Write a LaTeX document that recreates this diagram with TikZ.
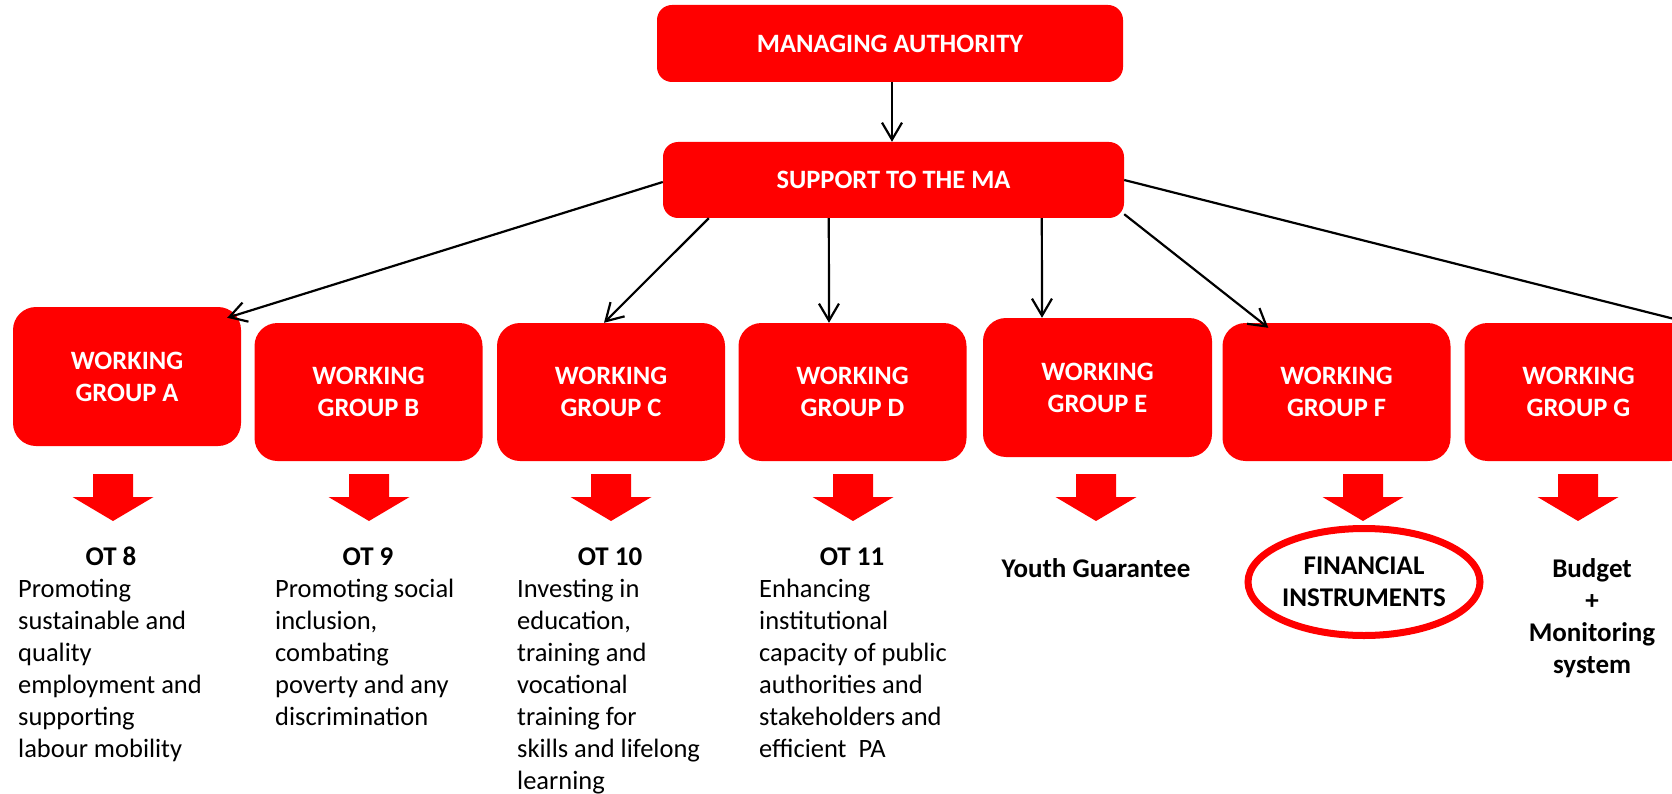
\documentclass[tikz,border=0pt]{standalone}
\usepackage{fontspec}
\setmainfont{Carlito}
\usetikzlibrary{arrows.meta,shapes.geometric}
\definecolor{wgred}{RGB}{255,0,0}

\begin{document}
\begin{tikzpicture}[x=1pt,y=-1pt,
  box/.style={fill=wgred, rounded corners=15pt, text=white,
    font=\fontsize{26.5}{32}\selectfont\bfseries, align=center, inner sep=0pt},
  wg/.style={box, rounded corners=23pt, minimum width=228pt, minimum height=138pt},
  link/.style={draw=black, line width=2.2pt,
    -{Straight Barb[length=17pt,width=20pt]}},
  title/.style={font=\fontsize{27}{32}\selectfont\bfseries, inner sep=0pt, anchor=base},
  body/.style={font=\fontsize{26.5}{32}\selectfont, align=left, inner sep=0pt, anchor=base west},
  pics/downarrow/.style={code={
    \fill[wgred] (-20,0) -- (20,0) -- (20,23) -- (40.5,23) -- (0,47)
      -- (-40.5,23) -- (-20,23) -- cycle;}}
]
\useasboundingbox (0,0) rectangle (1672,794);
\clip (0,0) rectangle (1672,794);

% top of the hierarchy
\node[box, minimum width=466pt, minimum height=77pt] (ma) at (890,43.5) {MANAGING AUTHORITY};
\node[box, minimum width=461pt, minimum height=76pt] (sup) at (893.5,180) {SUPPORT TO THE MA};

% working groups
\node[wg, minimum height=139pt] (A) at (127,376.5) {WORKING\\GROUP A};
\node[wg] (B) at (368.5,392) {WORKING\\GROUP B};
\node[wg] (C) at (611,392) {WORKING\\GROUP C};
\node[wg] (D) at (852.5,392) {WORKING\\GROUP D};
\node[wg, minimum width=229pt, minimum height=139pt] (E) at (1097.5,387.5) {WORKING\\GROUP E};
\node[wg] (F) at (1336.5,392) {WORKING\\GROUP F};
\node[wg] (G) at (1578.5,392) {WORKING\\GROUP G};
\coordinate (gto) at (1710,328);

% connectors
\draw[link] ([xshift=2pt]ma.south) -- ([xshift=-1.5pt]sup.north);
\draw[link] ([yshift=-2pt]sup.west) -- ([xshift=-14pt,yshift=-11pt]A.north east);
\draw[link] ([xshift=46pt]sup.south west) -- ([xshift=-7pt]C.north);
\draw[link] ([xshift=166pt]sup.south west) -- ([xshift=-23.5pt]D.north);
\draw[link] ([xshift=379pt]sup.south west) -- ([xshift=-55.5pt]E.north);
\draw[link] ([yshift=4pt]sup.south east) -- ([xshift=46pt,yshift=-5pt]F.north west);
\draw[link] (sup.east) -- (gto);

% block arrows under the groups
\pic at (113,474) {downarrow};
\pic at (369,474) {downarrow};
\pic at (611,474) {downarrow};
\pic at (853,474) {downarrow};
\pic at (1096,474) {downarrow};
\pic at (1363,474) {downarrow};
\pic at (1578,474) {downarrow};

% thematic objectives (multi-line nodes sit on the baseline of their last line)
\node[title] (t8) at (111,565) {OT 8};
\node[body] (b8) at (18,757) {Promoting\\sustainable and\\quality\\employment and\\supporting\\labour mobility};
\node[title] (t9) at (368,565) {OT 9};
\node[body] (b9) at (275,725) {Promoting social\\inclusion,\\combating\\poverty and any\\discrimination};
\node[title] (t10) at (610,565) {OT 10};
\node[body] (b10) at (517,789) {Investing in\\education,\\training and\\vocational\\training for\\skills and lifelong\\learning};
\node[title] (t11) at (852,565) {OT 11};
\node[body] (b11) at (759,757) {Enhancing\\institutional\\capacity of public\\authorities and\\stakeholders and\\efficient\ \ PA};
\node[title] (yg) at (1096,577) {Youth Guarantee};
\node[ellipse, draw=wgred, line width=7pt, minimum width=232pt, minimum height=107pt,
  inner sep=0pt, align=center, font=\fontsize{27}{32}\selectfont\bfseries] (fi) at (1364,582)
  {FINANCIAL\\INSTRUMENTS};
\node[title, align=center] (bm) at (1592,673) {Budget\\+\\Monitoring\\system};
\end{tikzpicture}
\end{document}
